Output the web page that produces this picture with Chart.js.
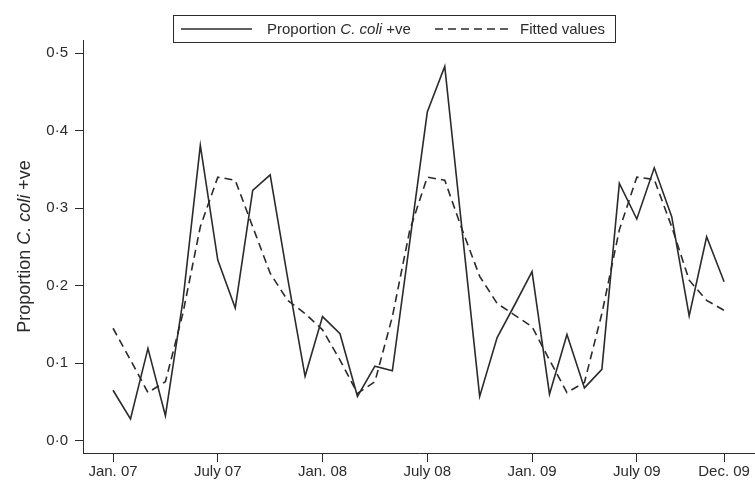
<!DOCTYPE html>
<html>
<head>
<meta charset="utf-8">
<script src="https://cdn.jsdelivr.net/npm/chart.js@4/dist/chart.umd.min.js"></script>
<style>
  html, body { margin: 0; padding: 0; background: #fff; }
  #wrap { width: 755px; height: 485px; }
</style>
</head>
<body>
<div id="wrap"><canvas id="c" width="755" height="485"></canvas></div>
<script>
// ---- Data ----
const categories = [
  'Jan 07','Feb 07','Mar 07','Apr 07','May 07','Jun 07','Jul 07','Aug 07','Sep 07','Oct 07','Nov 07','Dec 07',
  'Jan 08','Feb 08','Mar 08','Apr 08','May 08','Jun 08','Jul 08','Aug 08','Sep 08','Oct 08','Nov 08','Dec 08',
  'Jan 09','Feb 09','Mar 09','Apr 09','May 09','Jun 09','Jul 09','Aug 09','Sep 09','Oct 09','Nov 09','Dec 09'
];
const proportionColi = [
  0.065, 0.028, 0.119, 0.032, 0.180, 0.381, 0.233, 0.171, 0.323, 0.343, 0.210, 0.083,
  0.160, 0.138, 0.057, 0.096, 0.090, 0.257, 0.424, 0.483, 0.270, 0.057, 0.133, 0.175,
  0.218, 0.060, 0.137, 0.068, 0.092, 0.332, 0.286, 0.352, 0.289, 0.161, 0.263, 0.205
];
const fittedValues = [
  0.145, 0.104, 0.062, 0.076, 0.164, 0.276, 0.340, 0.336, 0.276, 0.216, 0.181, 0.164,
  0.143, 0.104, 0.061, 0.076, 0.160, 0.272, 0.340, 0.336, 0.272, 0.212, 0.177, 0.162,
  0.147, 0.104, 0.062, 0.075, 0.164, 0.272, 0.340, 0.337, 0.276, 0.207, 0.181, 0.168
];
const xTickMonths = [0, 6, 12, 18, 24, 30, 35];
const xTickLabels = ['Jan. 07', 'July 07', 'Jan. 08', 'July 08', 'Jan. 09', 'July 09', 'Dec. 09'];
const yTicks = [0, 0.1, 0.2, 0.3, 0.4, 0.5];

const FONT = '"Liberation Sans", Arial, Helvetica, sans-serif';
const INK = '#2b2b2b';

const toPoints = arr => arr.map((v, i) => ({ x: i, y: v }));

function drawMixed(ctx, parts, x, y, size) {
  // parts: [[text, italic], ...]; draws starting at x, baseline middle
  let cx = x;
  for (const [t, it] of parts) {
    ctx.font = (it ? 'italic ' : '') + size + 'px ' + FONT;
    ctx.fillText(t, cx, y);
    cx += ctx.measureText(t).width;
  }
  return cx;
}
function mixedWidth(ctx, parts, size) {
  let w = 0;
  for (const [t, it] of parts) {
    ctx.font = (it ? 'italic ' : '') + size + 'px ' + FONT;
    w += ctx.measureText(t).width;
  }
  return w;
}

const titleParts = [['Proportion ', false], ['C. coli', true], [' +ve', false]];

const decorPlugin = {
  id: 'decor',
  afterDraw(chart) {
    const ctx = chart.ctx;
    ctx.save();
    // Legend box
    ctx.strokeStyle = INK;
    ctx.lineWidth = 1;
    ctx.strokeRect(173.5, 15.5, 442, 27);
    ctx.fillStyle = INK;
    ctx.textBaseline = 'middle';
    ctx.textAlign = 'left';
    const ly = 29;
    // solid sample
    ctx.lineWidth = 1.5;
    ctx.beginPath(); ctx.moveTo(181, ly); ctx.lineTo(252, ly); ctx.stroke();
    drawMixed(ctx, titleParts, 267, ly + 1, 15);
    // dashed sample
    ctx.setLineDash([8, 5]);
    ctx.beginPath(); ctx.moveTo(435, ly); ctx.lineTo(510, ly); ctx.stroke();
    ctx.setLineDash([]);
    ctx.font = '15px ' + FONT;
    ctx.fillText('Fitted values', 520, ly + 1);

    // Y axis title (rotated)
    const area = chart.chartArea;
    const cy = (area.top + area.bottom) / 2;
    ctx.translate(25, cy);
    ctx.rotate(-Math.PI / 2);
    const w = mixedWidth(ctx, titleParts, 18);
    drawMixed(ctx, titleParts, -w / 2, 0, 18);
    ctx.restore();
  }
};

new Chart(document.getElementById('c'), {
  type: 'line',
  data: {
    datasets: [
      {
        label: 'Proportion C. coli +ve',
        data: toPoints(proportionColi),
        borderColor: INK,
        borderWidth: 1.6,
        pointRadius: 0,
        tension: 0,
        fill: false
      },
      {
        label: 'Fitted values',
        data: toPoints(fittedValues),
        borderColor: INK,
        borderWidth: 1.6,
        borderDash: [8, 5],
        pointRadius: 0,
        tension: 0,
        fill: false
      }
    ]
  },
  options: {
    responsive: false,
    animation: false,
    layout: { padding: { top: 40, left: 0, right: 0, bottom: 0 } },
    plugins: { legend: { display: false }, tooltip: { enabled: false } },
    scales: {
      x: {
        type: 'linear',
        min: -1.72,
        max: 36.77,
        afterBuildTicks: s => { s.ticks = xTickMonths.map(v => ({ value: v })); },
        afterFit: s => { s.height = 32; },
        ticks: {
          callback: v => xTickLabels[xTickMonths.indexOf(v)],
          font: { family: FONT, size: 15 },
          color: INK,
          padding: 1,
          maxRotation: 0,
          autoSkip: false
        },
        grid: { display: true, drawOnChartArea: false, drawTicks: true, tickLength: 9, color: INK, lineWidth: 1 },
        border: { display: true, color: INK, width: 1 }
      },
      y: {
        type: 'linear',
        min: -0.016,
        max: 0.517,
        afterBuildTicks: s => { s.ticks = yTicks.map(v => ({ value: v })); },
        afterFit: s => { s.width = 83; },
        ticks: {
          callback: v => v.toFixed(1).replace('.', '\u00B7'),
          font: { family: FONT, size: 15 },
          color: INK,
          padding: 7
        },
        grid: { display: true, drawOnChartArea: false, drawTicks: true, tickLength: 8, color: INK, lineWidth: 1 },
        border: { display: true, color: INK, width: 1 }
      }
    }
  },
  plugins: [decorPlugin]
});
</script>
</body>
</html>
